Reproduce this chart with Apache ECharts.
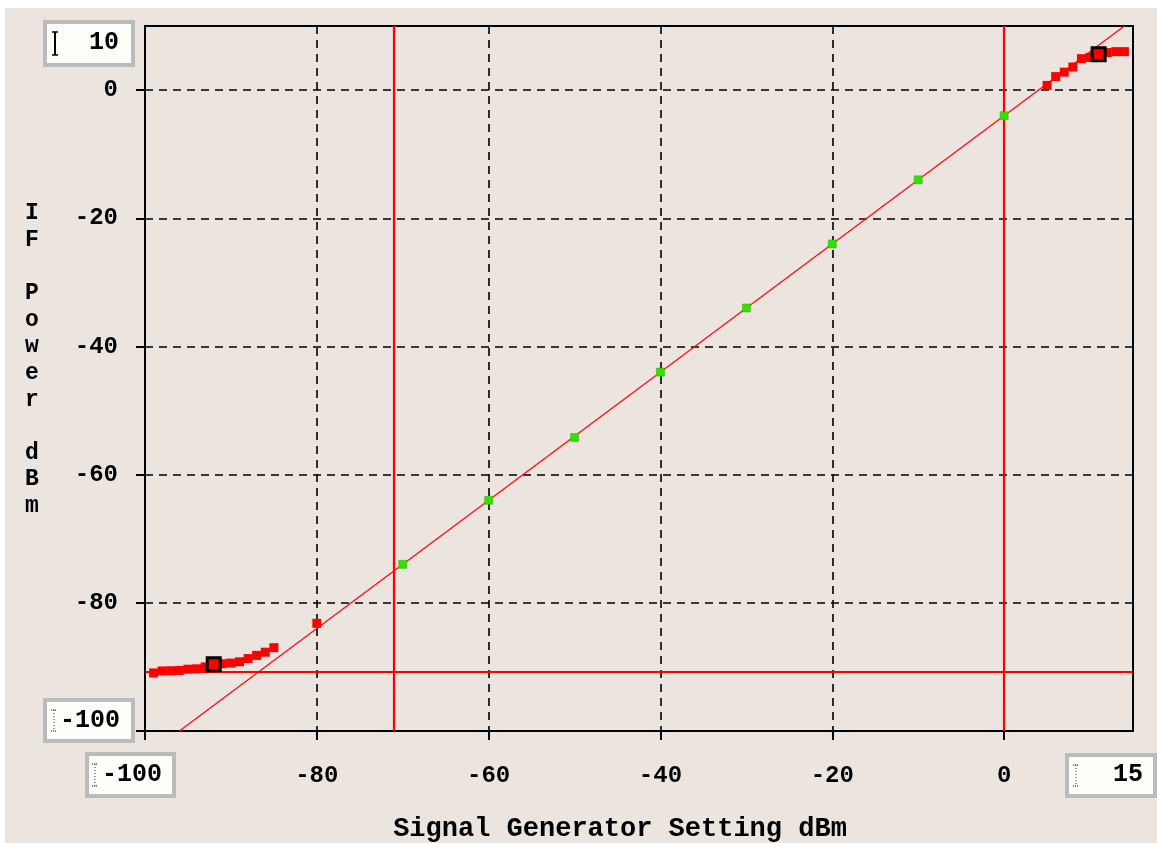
<!DOCTYPE html>
<html>
<head>
<meta charset="utf-8">
<script src="https://cdn.jsdelivr.net/npm/echarts@6/dist/echarts.min.js"></script>
<style>
  html, body { margin: 0; padding: 0; background: #fff; }
  #chart { width: 1157px; height: 843px; }
</style>
</head>
<body>
<div id="chart"></div>
<script>
// measured points, low end (compressed near the noise floor)
var lowX = [-99, -98, -97, -96, -95, -94, -93, -92, -91, -90, -89, -88, -87, -86, -85];
var lowY = [-90.94, -90.63, -90.6, -90.55, -90.36, -90.3, -90.0, -89.58, -89.5, -89.4, -89.2, -88.7, -88.2, -87.7, -87.0];
// measured points, high end (compression)
var highX = [5, 6, 7, 8, 9, 10, 11, 12, 13, 14];
var highY = [0.73, 2.1, 2.8, 3.6, 4.9, 5.1, 5.6, 5.86, 6.0, 6.0];
var singleX = [-80];
var singleY = [-83.2];
// points inside the linear range
var greenX = [-70, -60, -50, -40, -30, -20, -10, 0];
var greenY = [-74, -64, -54.2, -44, -34, -24, -14, -4];
// fitted line end points
var fitX = [-96, 14];
var fitY = [-100, 10];
// cursor markers
var cursorX = [-92, 11];
var cursorY = [-89.58, 5.6];
// reference lines
var refX = [-71, 0];
var refY = [-90.8];
// axis range & ticks
var xRange = [-100, 15];
var yRange = [-100, 10];
var xTicks = [-100, -80, -60, -40, -20, 0];
var xLabels = [-80, -60, -40, -20, 0];
var yTicks = [-100, -80, -60, -40, -20, 0];
var yLabels = [-80, -60, -40, -20, 0];
var xTitle = 'Signal Generator Setting dBm';
var yTitle = 'IF Power dBm';

function pairs(xs, ys) {
    return xs.map(function(x, i) { return [x, ys[i]]; });
}

var font = '"Liberation Mono", "DejaVu Sans Mono", monospace';
var bg = '#ece4de';

// little range boxes with an I-beam
function rangeBox(x, y, w, h, txt, tx, ty, beamX, dotted) {
    var els = [{
        type: 'rect', shape: { x: x, y: y, width: w, height: h },
        style: { fill: '#fdfdf9', stroke: '#b9bcb8', lineWidth: 4 }, z: 20
    }, {
        type: 'text', x: tx, y: ty,
        style: { text: txt, font: 'bold 25px ' + font, fill: '#000', align: 'right', verticalAlign: 'middle' }, z: 21
    }];
    var t = y + 10, b = y + h - 10;
    var c = dotted ? '#555' : '#000';
    els.push({
        type: 'line', shape: { x1: beamX, y1: t, x2: beamX, y2: b },
        style: { stroke: c, lineWidth: dotted ? 1.2 : 2, lineDash: dotted ? [1, 2] : null }, z: 21
    });
    els.push({
        type: 'line', shape: { x1: beamX - 3, y1: t, x2: beamX + 3, y2: t },
        style: { stroke: c, lineWidth: 1.5, lineDash: dotted ? [1, 1] : null }, z: 21
    });
    els.push({
        type: 'line', shape: { x1: beamX - 3, y1: b, x2: beamX + 3, y2: b },
        style: { stroke: c, lineWidth: 1.5, lineDash: dotted ? [1, 1] : null }, z: 21
    });
    return els;
}

var chart = echarts.init(document.getElementById('chart'));

var graphics = [
    { type: 'rect', shape: { x: 0, y: 0, width: 1157, height: 8 }, style: { fill: '#fff' }, z: 1 },
    { type: 'rect', shape: { x: 0, y: 0, width: 5, height: 843 }, style: { fill: '#fff' }, z: 1 },
    {
        type: 'text', x: 620, y: 829,
        style: { text: xTitle, font: 'bold 27px ' + font, fill: '#000', align: 'center', verticalAlign: 'middle' }
    },
    {
        type: 'text', x: 32, y: 360,
        style: {
            text: yTitle.split('').join('\n'), font: 'bold 23px ' + font, fill: '#000',
            align: 'center', verticalAlign: 'middle', lineHeight: 26.6
        }
    }
].concat(
    rangeBox(45, 22, 88, 43, '10', 119, 43, 55, false),
    rangeBox(45, 700, 88, 41, '-100', 120, 721, 54, true),
    rangeBox(87, 754, 87, 42, '-100', 162, 775, 95, true),
    rangeBox(1067, 755, 88, 41, '15', 1143, 775, 1076, true)
);

var option = {
    backgroundColor: bg,
    animation: false,
    grid: {
        left: 145, right: 24, top: 26, bottom: 112,
        show: true, borderColor: '#000', borderWidth: 2,
        outerBoundsMode: 'none'
    },
    xAxis: {
        type: 'value', min: xRange[0], max: xRange[1], interval: 20,
        axisLine: { show: true, onZero: false, lineStyle: { color: '#000', width: 2 } },
        axisTick: { show: true, inside: false, length: 9, customValues: xTicks, lineStyle: { color: '#000', width: 2 } },
        axisLabel: {
            customValues: xLabels, margin: 33,
            fontFamily: font, fontWeight: 'bold', fontSize: 24, color: '#000'
        },
        splitLine: { show: true, lineStyle: { color: '#000', width: 1.6, type: [8, 6] } }
    },
    yAxis: {
        type: 'value', min: yRange[0], max: yRange[1], interval: 20,
        axisLine: { show: true, onZero: false, lineStyle: { color: '#000', width: 2 } },
        axisTick: { show: true, inside: false, length: 9, customValues: yTicks, lineStyle: { color: '#000', width: 2 } },
        axisLabel: {
            customValues: yLabels, margin: 27,
            fontFamily: font, fontWeight: 'bold', fontSize: 24, color: '#000'
        },
        splitLine: { show: true, lineStyle: { color: '#000', width: 1.6, type: [8, 6] } }
    },
    series: [
        {
            name: 'ref', type: 'line', data: [], silent: true, z: 3,
            markLine: {
                silent: true, symbol: 'none', label: { show: false },
                lineStyle: { color: '#ff0000', width: 2.2, type: 'solid' },
                data: refX.map(function(v) { return { xAxis: v }; })
                    .concat(refY.map(function(v) { return { yAxis: v }; }))
            }
        },
        {
            name: 'fit', type: 'line', data: pairs(fitX, fitY), showSymbol: false,
            lineStyle: { color: '#ff1010', width: 1.4 }, z: 3
        },
        {
            name: 'measured', type: 'scatter', symbol: 'rect', symbolSize: 9,
            data: pairs(lowX, lowY).concat(pairs(singleX, singleY), pairs(highX, highY)),
            itemStyle: { color: '#ff0000', opacity: 1 }, z: 4
        },
        {
            name: 'linear', type: 'scatter', symbol: 'rect', symbolSize: 8,
            data: pairs(greenX, greenY),
            itemStyle: { color: '#33e000', borderColor: '#22b000', borderWidth: 0.5, opacity: 1 }, z: 5
        },
        {
            name: 'cursor', type: 'scatter', symbol: 'rect', symbolSize: 13,
            data: pairs(cursorX, cursorY),
            itemStyle: { color: '#ff0000', borderColor: '#000', borderWidth: 3, opacity: 1 }, z: 6
        }
    ],
    graphic: graphics
};

chart.setOption(option);
</script>
</body>
</html>
